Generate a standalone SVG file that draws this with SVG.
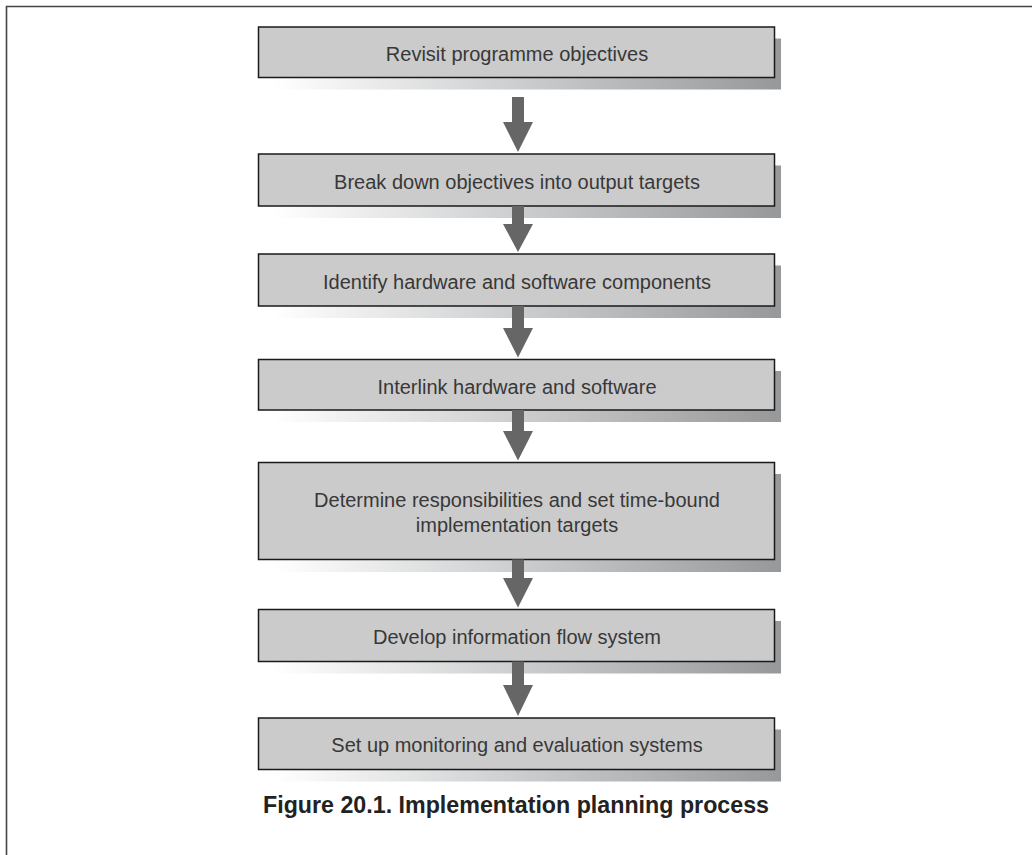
<svg xmlns="http://www.w3.org/2000/svg" width="1032" height="855" viewBox="0 0 1032 855">
  <defs>
    <linearGradient id="shadowGrad" x1="0" y1="0" x2="1" y2="0">
      <stop offset="0" stop-color="#ffffff"/>
      <stop offset="0.35" stop-color="#dadbdc"/>
      <stop offset="1" stop-color="#97989a"/>
    </linearGradient>
    <style>
      .box { fill: #cbcbcb; stroke: #1a1a1a; stroke-width: 1.5; }
      .shadow { fill: url(#shadowGrad); }
      .label { font-family: "Liberation Sans", Arial, sans-serif; font-size: 20px; fill: #383838; text-anchor: middle; }
      .arrow { fill: #666666; }
      .frame { stroke: #444444; stroke-width: 1.6; fill: none; }
      .caption { font-family: "Liberation Sans", Arial, sans-serif; font-size: 24px; font-weight: bold; fill: #222222; text-anchor: middle; }
    </style>
  </defs>
  <rect width="1032" height="855" fill="#ffffff"/>
  <path class="frame" d="M6.5 855 V6.5 H1032"/>

  <g id="node1">
    <rect class="shadow" x="273" y="38.5" width="508" height="51"/>
    <rect class="box" x="258.5" y="27" width="516" height="50.5"/>
    <text class="label" x="517" y="61">Revisit programme objectives</text>
  </g>
  <g id="node2">
    <rect class="shadow" x="273" y="165.5" width="508" height="52.5"/>
    <rect class="box" x="258.5" y="154" width="516" height="52"/>
    <text class="label" x="517" y="188.5">Break down objectives into output targets</text>
  </g>
  <g id="node3">
    <rect class="shadow" x="273" y="265.5" width="508" height="52.5"/>
    <rect class="box" x="258.5" y="254" width="516" height="52"/>
    <text class="label" x="517" y="288.5">Identify hardware and software components</text>
  </g>
  <g id="node4">
    <rect class="shadow" x="273" y="371" width="508" height="51"/>
    <rect class="box" x="258.5" y="359.5" width="516" height="50.5"/>
    <text class="label" x="517" y="393.5">Interlink hardware and software</text>
  </g>
  <g id="node5">
    <rect class="shadow" x="273" y="474" width="508" height="98"/>
    <rect class="box" x="258.5" y="462.5" width="516" height="97"/>
    <text class="label" x="517" y="506.5">Determine responsibilities and set time-bound</text>
    <text class="label" x="517" y="532">implementation targets</text>
  </g>
  <g id="node6">
    <rect class="shadow" x="273" y="621" width="508" height="52.5"/>
    <rect class="box" x="258.5" y="609.5" width="516" height="52"/>
    <text class="label" x="517" y="643.5">Develop information flow system</text>
  </g>
  <g id="node7">
    <rect class="shadow" x="273" y="729.5" width="508" height="52"/>
    <rect class="box" x="258.5" y="718" width="516" height="51.5"/>
    <text class="label" x="517" y="752">Set up monitoring and evaluation systems</text>
  </g>

  <g id="connectors">
    <path class="arrow" d="M512 97 H524 V122 H533 L518 152 L503 122 H512 Z"/>
    <path class="arrow" d="M512 206 H524 V224 H533 L518 252 L503 224 H512 Z"/>
    <path class="arrow" d="M512 306 H524 V328 H533 L518 357.5 L503 328 H512 Z"/>
    <path class="arrow" d="M512 410 H524 V431 H533 L518 460.5 L503 431 H512 Z"/>
    <path class="arrow" d="M512 559.5 H524 V578 H533 L518 607.5 L503 578 H512 Z"/>
    <path class="arrow" d="M512 661.5 H524 V685 H533 L518 716 L503 685 H512 Z"/>
  </g>

  <text class="caption" x="516" y="813" textLength="506" lengthAdjust="spacingAndGlyphs">Figure 20.1. Implementation planning process</text>
</svg>
